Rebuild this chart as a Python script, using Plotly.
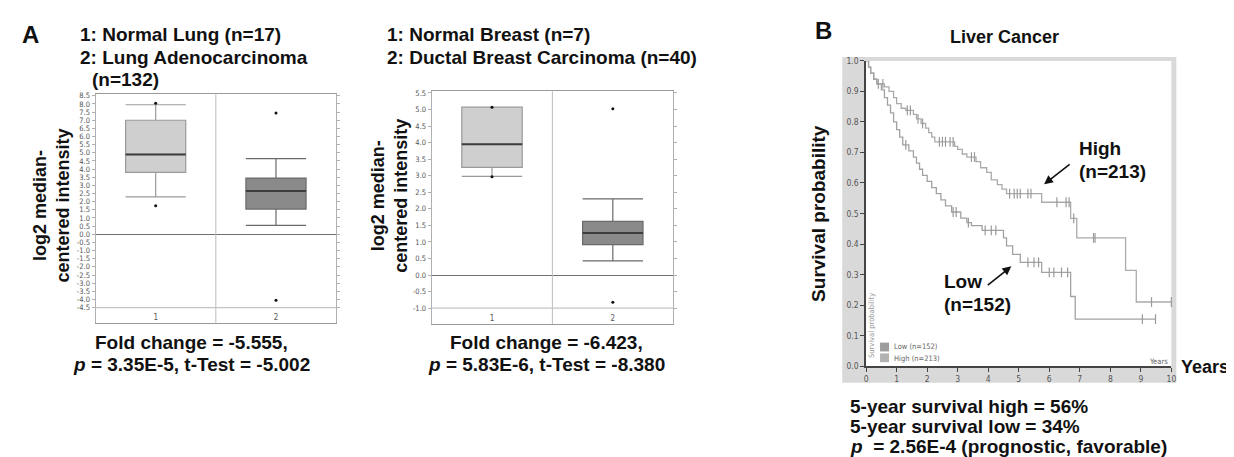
import plotly.graph_objects as go

W, H = 1234, 457

# ---------------- data ----------------
lung_groups = [1, 2]
lung_q1 = [3.8, 1.55]
lung_median = [4.9, 2.65]
lung_q3 = [7.0, 3.45]
lung_low = [2.3, 0.55]
lung_high = [7.95, 4.65]
lung_out_x = [1, 1, 2, 2]
lung_out_y = [8.05, 1.75, 7.45, -4.05]

breast_groups = [1, 2]
breast_q1 = [3.25, 0.92]
breast_median = [3.95, 1.27]
breast_q3 = [5.07, 1.62]
breast_low = [2.98, 0.43]
breast_high = [5.07, 2.3]
breast_out_x = [1, 1, 2, 2]
breast_out_y = [5.07, 2.97, 5.02, -0.82]

lung_ticks = [-4.5 + 0.5 * i for i in range(27)]
breast_ticks = [-1.0 + 0.5 * i for i in range(14)]

high_t = [0, 0.08, 0.15, 0.25, 0.35, 0.6, 0.75, 0.9, 1.0, 1.15, 1.3, 1.55, 1.65, 1.8, 1.95,
          2.05, 2.15, 2.25, 2.9, 3.0, 3.15, 3.3, 3.6, 3.75, 3.95, 4.1, 4.3, 4.45, 4.6, 5.75,
          6.7, 6.9, 8.5, 8.85, 10.0]
high_s = [1.0, 0.98, 0.96, 0.94, 0.925, 0.915, 0.9, 0.88, 0.86, 0.845, 0.838, 0.825, 0.81,
          0.795, 0.78, 0.765, 0.75, 0.735, 0.72, 0.71, 0.695, 0.685, 0.67, 0.65, 0.635, 0.61,
          0.595, 0.58, 0.565, 0.537, 0.484, 0.42, 0.314, 0.21, 0.21]
high_cens_t = [0.4, 0.55, 1.35, 1.45, 1.7, 1.85, 2.4, 2.5, 2.6, 2.75, 2.85, 3.45, 3.55, 4.7,
               4.85, 4.95, 5.05, 5.3, 5.4, 6.25, 6.55, 6.65, 6.8, 7.45, 7.5, 9.35, 10.0]
high_cens_s = [0.925, 0.925, 0.838, 0.838, 0.81, 0.795, 0.735, 0.735, 0.735, 0.735, 0.735,
               0.685, 0.685, 0.565, 0.565, 0.565, 0.565, 0.565, 0.565, 0.537, 0.537, 0.537,
               0.484, 0.42, 0.42, 0.21, 0.21]

low_t = [0, 0.08, 0.15, 0.25, 0.35, 0.5, 0.6, 0.7, 0.8, 0.9, 1.0, 1.1, 1.2, 1.4, 1.55, 1.65,
         1.75, 1.85, 2.0, 2.15, 2.3, 2.45, 2.6, 2.8, 3.1, 3.3, 3.45, 3.8, 4.5, 4.6, 4.8, 5.05,
         5.75, 6.7, 6.85, 9.48]
low_s = [1.0, 0.98, 0.96, 0.94, 0.925, 0.905, 0.88, 0.855, 0.83, 0.8, 0.775, 0.75, 0.725,
         0.705, 0.685, 0.665, 0.645, 0.625, 0.605, 0.585, 0.565, 0.545, 0.525, 0.505, 0.485,
         0.47, 0.46, 0.445, 0.42, 0.394, 0.366, 0.34, 0.307, 0.228, 0.154, 0.154]
low_cens_t = [1.3, 2.85, 2.95, 3.35, 3.9, 4.1, 4.25, 5.3, 5.5, 5.65, 6.0, 6.15, 6.4, 6.6,
              9.05, 9.48]
low_cens_s = [0.725, 0.505, 0.505, 0.47, 0.445, 0.445, 0.445, 0.34, 0.34, 0.34, 0.307,
              0.307, 0.307, 0.307, 0.154, 0.154]

km_xticks = list(range(11))
km_yticks = [i / 10 for i in range(11)]

# ---------------- helpers ----------------
def px(x):
    return x / W

def py(y):
    return 1 - y / H

BOLD = "Liberation Sans, Arial, sans-serif"
TICKF = "Liberation Sans Narrow, DejaVu Sans Condensed, Arial Narrow, sans-serif"

fig = go.Figure()

box_fill = ["#cfcfcf", "#8a8a8a"]
box_line = ["#9a9a9a", "#6a6a6a"]

def add_boxes(groups, q1, med, q3, lo, hi, ox, oy, xa, ya):
    for i, g in enumerate(groups):
        fig.add_trace(go.Box(
            x=[g], q1=[q1[i]], median=[med[i]], q3=[q3[i]],
            lowerfence=[lo[i]], upperfence=[hi[i]],
            width=0.5, whiskerwidth=1, boxpoints=False,
            fillcolor=box_fill[i], line=dict(color=box_line[i], width=1.2),
            xaxis=xa, yaxis=ya, showlegend=False))
        fig.add_shape(type="line", xref=xa, yref=ya, x0=g - 0.25, x1=g + 0.25,
                      y0=med[i], y1=med[i], line=dict(color="#3c3c3c", width=2))
    fig.add_trace(go.Scatter(x=ox, y=oy, mode="markers", xaxis=xa, yaxis=ya,
                             marker=dict(color="#111", size=3), showlegend=False,
                             cliponaxis=False))

add_boxes(lung_groups, lung_q1, lung_median, lung_q3, lung_low, lung_high,
          lung_out_x, lung_out_y, "x", "y")
add_boxes(breast_groups, breast_q1, breast_median, breast_q3, breast_low, breast_high,
          breast_out_x, breast_out_y, "x2", "y2")

# KM curves
fig.add_trace(go.Scatter(x=high_t, y=high_s, mode="lines", line=dict(shape="hv", color="#ababab", width=1.3),
                         xaxis="x3", yaxis="y3", showlegend=False, cliponaxis=False))
fig.add_trace(go.Scatter(x=low_t, y=low_s, mode="lines", line=dict(shape="hv", color="#a2a2a2", width=1.3),
                         xaxis="x3", yaxis="y3", showlegend=False, cliponaxis=False))
fig.add_trace(go.Scatter(x=high_cens_t, y=high_cens_s, mode="markers",
                         marker=dict(symbol="line-ns", size=7, line=dict(color="#9a9a9a", width=1.2)),
                         xaxis="x3", yaxis="y3", showlegend=False, cliponaxis=False))
fig.add_trace(go.Scatter(x=low_cens_t, y=low_cens_s, mode="markers",
                         marker=dict(symbol="line-ns", size=7, line=dict(color="#9a9a9a", width=1.2)),
                         xaxis="x3", yaxis="y3", showlegend=False, cliponaxis=False))

# ---------------- axes ----------------
def box_axes(xname, yname, xdom, ydom, yrange, ticks):
    fig.update_layout(**{
        xname: dict(domain=xdom, range=[0.5, 2.5], tickvals=[1, 2], ticktext=["1", "2"],
                    ticklabelposition="inside", ticks="", showline=True, mirror=True,
                    linecolor="#9a9a9a", linewidth=1.3, showgrid=False, zeroline=False,
                    tickfont=dict(family=TICKF, size=8, color="#555")),
        yname: dict(domain=ydom, range=yrange, tickvals=ticks,
                    ticktext=["%.1f" % t for t in ticks], ticks="outside", ticklen=3,
                    tickcolor="#b0b0b0", showline=True, mirror="ticks", linecolor="#b0b0b0",
                    showgrid=False, zeroline=True, zerolinecolor="#707070", zerolinewidth=1.3,
                    tickfont=dict(family=TICKF, size=7.5, color="#555")),
    })

box_axes("xaxis", "yaxis", [px(86), px(328)], [py(317), py(83)], [-5.45, 8.6], lung_ticks)
box_axes("xaxis2", "yaxis2", [px(424), px(667)], [py(318), py(80)], [-1.48, 5.55], breast_ticks)
fig.layout.xaxis2.anchor = "y2"
fig.layout.yaxis2.anchor = "x2"

fig.update_layout(
    xaxis3=dict(domain=[px(861), px(1168)], range=[0, 10], anchor="y3", tickvals=km_xticks,
                ticks="outside", ticklen=4, tickcolor="#444", showline=True, linecolor="#444",
                linewidth=1.5, showgrid=False, zeroline=False,
                tickfont=dict(family=TICKF, size=8.5, color="#555")),
    yaxis3=dict(domain=[py(361), py(49)], range=[0, 1.0], anchor="x3", tickvals=km_yticks,
                ticktext=["%.1f" % t for t in km_yticks], ticks="outside", ticklen=4,
                tickcolor="#444", showline=True, linecolor="#444", linewidth=1.5,
                showgrid=False, zeroline=False,
                tickfont=dict(family=TICKF, size=8.5, color="#555")),
)

# ---------------- shapes ----------------
shapes = []
# KM gray frame with white plotting area
shapes.append(dict(type="rect", xref="paper", yref="paper", x0=px(837), x1=px(1173),
                   y0=py(378), y1=py(45), fillcolor="#d9d9d9", line=dict(width=0), layer="below"))
shapes.append(dict(type="rect", xref="paper", yref="paper", x0=px(861), x1=px(1168),
                   y0=py(361), y1=py(49), fillcolor="white", line=dict(width=0), layer="below"))
# dividers and bottom grid lines in box plots
for xa, ya, ybot in [("x", "y", lung_ticks[0]), ("x2", "y2", breast_ticks[0])]:
    shapes.append(dict(type="line", xref=xa, yref=ya + " domain", x0=1.5, x1=1.5, y0=0, y1=1,
                       line=dict(color="#bdbdbd", width=1)))
    shapes.append(dict(type="line", xref=xa + " domain", yref=ya, x0=0, x1=1, y0=ybot, y1=ybot,
                       line=dict(color="#c4c4c4", width=1.2)))
# KM legend squares
shapes.append(dict(type="rect", xref="paper", yref="paper", x0=px(875), x1=px(884),
                   y0=py(346), y1=py(337), fillcolor="#9c9c9c", line=dict(width=0)))
shapes.append(dict(type="rect", xref="paper", yref="paper", x0=px(875), x1=px(884),
                   y0=py(357), y1=py(348), fillcolor="#b2b2b2", line=dict(width=0)))
for s in shapes:
    fig.add_shape(**s)

# ---------------- text ----------------
def txt(x, y, s, size=19, anchor="left", color="#111", angle=0, family=BOLD, bold=True):
    fig.add_annotation(x=px(x), y=py(y), xref="paper", yref="paper",
                       text=("<b>%s</b>" % s) if bold else s, showarrow=False,
                       xanchor=anchor, yanchor="middle", textangle=angle,
                       font=dict(family=family, size=size, color=color))

txt(10, 22, "A", size=24)
txt(808, 18, "B", size=24)

txt(68, 22, "1: Normal Lung (n=17)")
txt(68, 46, "2: Lung Adenocarcinoma")
txt(80, 68, "(n=132)")
txt(377, 22, "1: Normal Breast (n=7)")
txt(377, 46, "2: Ductal Breast Carcinoma (n=40)")

txt(42, 197, "log2 median-<br>centered intensity", size=18, anchor="center", angle=-90)
txt(382, 187, "log2 median-<br>centered intensity", size=18, anchor="center", angle=-90)

txt(183, 337, "Fold change = -5.555,", anchor="center")
txt(183, 359, "<i>p</i> = 3.35E-5, t-Test = -5.002", anchor="center")
txt(540, 337, "Fold change = -6.423,", anchor="center")
txt(540, 359, "<i>p</i> = 5.83E-6, t-Test = -8.380", anchor="center")

txt(1000, 25, "Liver Cancer", size=18, anchor="center")
txt(813, 205, "Survival probability", anchor="center", angle=-90)
txt(1176, 362, "Years", size=18)
txt(1073, 139, "High")
txt(1073, 162, "(n=213)")
txt(937, 275, "Low")
txt(937, 298, "(n=152)")

txt(843, 402, "5-year survival high = 56%")
txt(843, 423, "5-year survival low = 34%")
txt(843, 443, "<i>p</i>  = 2.56E-4 (prognostic, favorable)")

# small texts inside KM plot
txt(887, 341, "Low (n=152)", size=7.5, color="#666", family=TICKF, bold=False)
txt(887, 353, "High (n=213)", size=7.5, color="#666", family=TICKF, bold=False)
txt(1167, 356, "Years", size=7.5, anchor="right", color="#666", family=TICKF, bold=False)
txt(867, 320, "Survival probability", size=7.5, anchor="center", color="#999",
    family=TICKF, bold=False, angle=-90)

# arrows
fig.add_annotation(x=px(1040), y=py(175), xref="paper", yref="paper", text="", showarrow=True,
                   ax=27, ay=-21, arrowhead=2, arrowsize=1.1, arrowwidth=1.6, arrowcolor="#111")
fig.add_annotation(x=px(1007), y=py(259), xref="paper", yref="paper", text="", showarrow=True,
                   ax=-25, ay=20, arrowhead=2, arrowsize=1.1, arrowwidth=1.6, arrowcolor="#111")

fig.update_layout(width=W, height=H, margin=dict(l=0, r=0, t=0, b=0),
                  paper_bgcolor="white", plot_bgcolor="white", showlegend=False,
                  boxmode="overlay")

fig.write_html("out.html")
